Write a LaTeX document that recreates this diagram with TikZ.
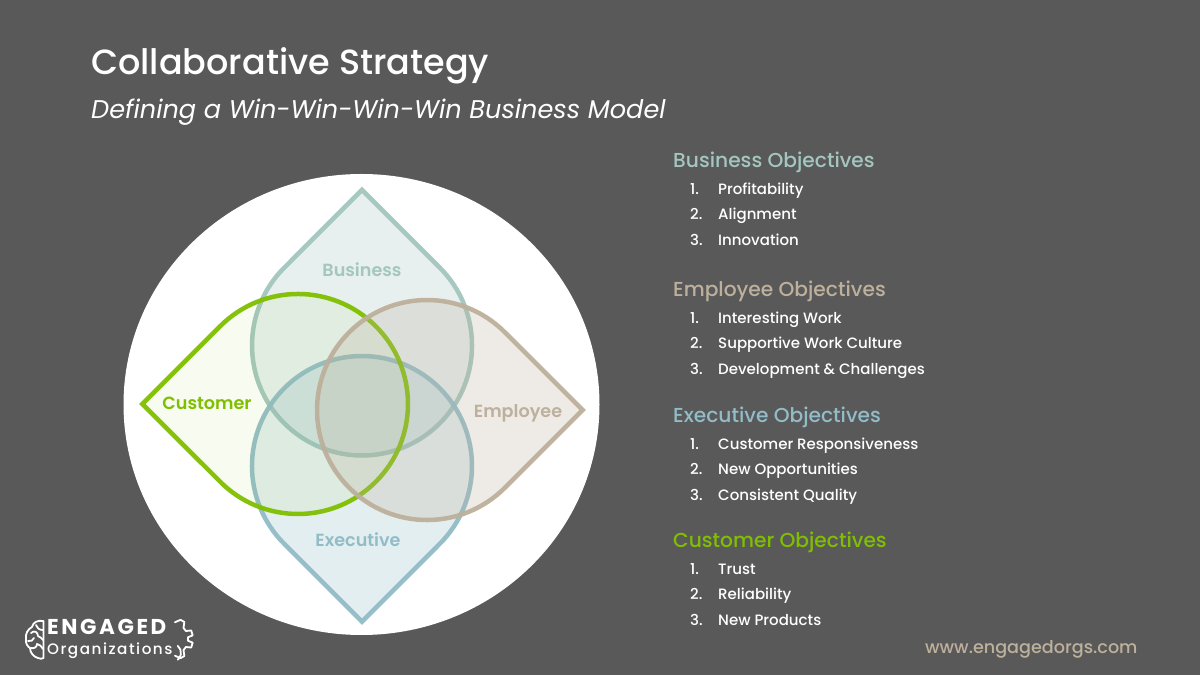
\documentclass[tikz,border=0pt]{standalone}
\usepackage{fontspec}
\setmainfont{Poppins}
\newfontfamily\medfont{Poppins Medium}
\newfontfamily\semifont{Poppins SemiBold}
\usetikzlibrary{positioning}
\definecolor{slate}{HTML}{595959}
\definecolor{busgreen}{HTML}{A3C6BE}
\definecolor{empsand}{HTML}{BDB09C}
\definecolor{exeblue}{HTML}{92BCC7}
\definecolor{cusgreen}{HTML}{80BF00}
\tikzset{
	drop/.style={line width=4.5pt, line join=miter, draw opacity=0.95},
	droplabel/.style={font=\fontsize{17.6}{20}\selectfont\semifont},
	heading/.style={anchor=base west, inner sep=0pt, font=\fontsize{20.2}{24}\selectfont\medfont},
	item/.style={anchor=base west, inner sep=0pt, white, font=\fontsize{15}{18}\selectfont\medfont},
	logoline/.style={white, line width=1.8pt, line cap=round, line join=round}
}
% one teardrop, tip pointing up before the rotation
\newcommand{\teardrop}[5]{
	\draw[drop, draw=#4, fill=#4, fill opacity=#5, shift={(#1pt,#2pt)}, rotate=#3]
		(0pt,155.6pt) -- (77.8pt,77.8pt) arc[start angle=45, end angle=-225, radius=110pt] -- cycle;
}
\begin{document}
\begin{tikzpicture}[x=1pt,y=1pt]
	\useasboundingbox (0,0) rectangle (1200,675);
	\fill[slate] (0,0) rectangle (1200,675);
	\fill[white] (361.5,270.5) ellipse [x radius=238, y radius=230.5];

	\teardrop{362}{329.5}{0}{busgreen}{0.25}
	\teardrop{362}{209}{180}{exeblue}{0.25}
	\teardrop{298}{271}{90}{cusgreen}{0.06}
	\teardrop{427}{265}{-90}{empsand}{0.25}

	\node[droplabel, busgreen] (business) at (362,405) {Business};
	\node[droplabel, exeblue] (executive) at (358,135) {Executive};
	\node[droplabel, cusgreen] (customer) at (207,272) {Customer};
	\node[droplabel, empsand] (employee) at (518,262) {Employee};

	\node[anchor=base west, inner sep=0pt, white, font=\fontsize{35}{42}\selectfont\medfont] (title) at (91,600) {Collaborative Strategy};
	\node[below=44pt of title.base west, anchor=base west, inner sep=0pt, white, font=\fontsize{25.6}{30}\selectfont\itshape] (subtitle) {Defining a Win-Win-Win-Win Business Model};

	\node[heading, busgreen] (bus) at (673,507) {Business Objectives};
	\node[item, below=26.5pt of bus.base west, xshift=17pt, anchor=base west] (bus1) {1.};
	\node[item, below=25.5pt of bus1.base west, anchor=base west] (bus2) {2.};
	\node[item, below=25.5pt of bus2.base west, anchor=base west] (bus3) {3.};
	\node[item, right=28pt of bus1.base west, anchor=base west] (bus1t) {Profitability};
	\node[item, right=28pt of bus2.base west, anchor=base west] (bus2t) {Alignment};
	\node[item, right=28pt of bus3.base west, anchor=base west] (bus3t) {Innovation};

	\node[heading, empsand] (emp) at (673,378) {Employee Objectives};
	\node[item, below=26.5pt of emp.base west, xshift=17pt, anchor=base west] (emp1) {1.};
	\node[item, below=25.5pt of emp1.base west, anchor=base west] (emp2) {2.};
	\node[item, below=25.5pt of emp2.base west, anchor=base west] (emp3) {3.};
	\node[item, right=28pt of emp1.base west, anchor=base west] (emp1t) {Interesting Work};
	\node[item, right=28pt of emp2.base west, anchor=base west] (emp2t) {Supportive Work Culture};
	\node[item, right=28pt of emp3.base west, anchor=base west] (emp3t) {Development \& Challenges};

	\node[heading, exeblue] (exe) at (673,252) {Executive Objectives};
	\node[item, below=26.5pt of exe.base west, xshift=17pt, anchor=base west] (exe1) {1.};
	\node[item, below=25.5pt of exe1.base west, anchor=base west] (exe2) {2.};
	\node[item, below=25.5pt of exe2.base west, anchor=base west] (exe3) {3.};
	\node[item, right=28pt of exe1.base west, anchor=base west] (exe1t) {Customer Responsiveness};
	\node[item, right=28pt of exe2.base west, anchor=base west] (exe2t) {New Opportunities};
	\node[item, right=28pt of exe3.base west, anchor=base west] (exe3t) {Consistent Quality};

	\node[heading, cusgreen] (cus) at (673,127) {Customer Objectives};
	\node[item, below=26.5pt of cus.base west, xshift=17pt, anchor=base west] (cus1) {1.};
	\node[item, below=25.5pt of cus1.base west, anchor=base west] (cus2) {2.};
	\node[item, below=25.5pt of cus2.base west, anchor=base west] (cus3) {3.};
	\node[item, right=28pt of cus1.base west, anchor=base west] (cus1t) {Trust};
	\node[item, right=28pt of cus2.base west, anchor=base west] (cus2t) {Reliability};
	\node[item, right=28pt of cus3.base west, anchor=base west] (cus3t) {New Products};

	\node[anchor=base west, inner sep=0pt, empsand, font=\fontsize{17.6}{20}\selectfont\medfont] (web) at (925,21) {www.engagedorgs.com};

	% logo
	\node[anchor=base west, inner sep=0pt, white, font=\fontsize{21.5}{22}\selectfont\bfseries\addfontfeature{LetterSpace=12}] (engaged) at (47,40) {ENGAGED};
	\node[anchor=base west, inner sep=0pt, white, font=\fontsize{15.2}{16}\selectfont\medfont\addfontfeature{LetterSpace=10}] (orgs) at (47,20) {Organizations};
	\begin{scope}[shift={(0,675)},y=-1pt]
		% brain
		\draw[logoline] (43.5,621) .. controls (38,620) and (33,622) .. (32,627) .. controls (28,629) and (25,634) .. (26,639)
			.. controls (25,643) and (28,647) .. (30,648) .. controls (30,653) and (34,657) .. (38,658) .. controls (40,659) and (42,659) .. (43.5,658) -- (43.5,621);
		\draw[logoline] (43,630) .. controls (39,630) and (37,628) .. (36,625);
		\draw[logoline] (31,633) .. controls (34,630) and (38,632) .. (38,636) .. controls (41,637) and (42,639) .. (43,640);
		\draw[logoline] (28,641) .. controls (31,642) and (33,640) .. (34,638);
		\draw[logoline] (31,648) .. controls (34,649) and (37,647) .. (37,644) .. controls (39,644) and (41,646) .. (43,649);
		% gear
		\draw[logoline, shift={(172,639)}] (80:17) -- (66:21) -- (54:21) -- (44:16) -- (30:16) -- (24:21) -- (10:21)
			-- (6:16) -- (-6:16) -- (-10:21) -- (-24:21) -- (-30:16) -- (-44:16) -- (-54:21) -- (-66:21) -- (-80:17);
		\draw[logoline, shift={(172,639)}] (50:9) arc[start angle=50, end angle=-50, radius=9pt];
	\end{scope}
\end{tikzpicture}
\end{document}
